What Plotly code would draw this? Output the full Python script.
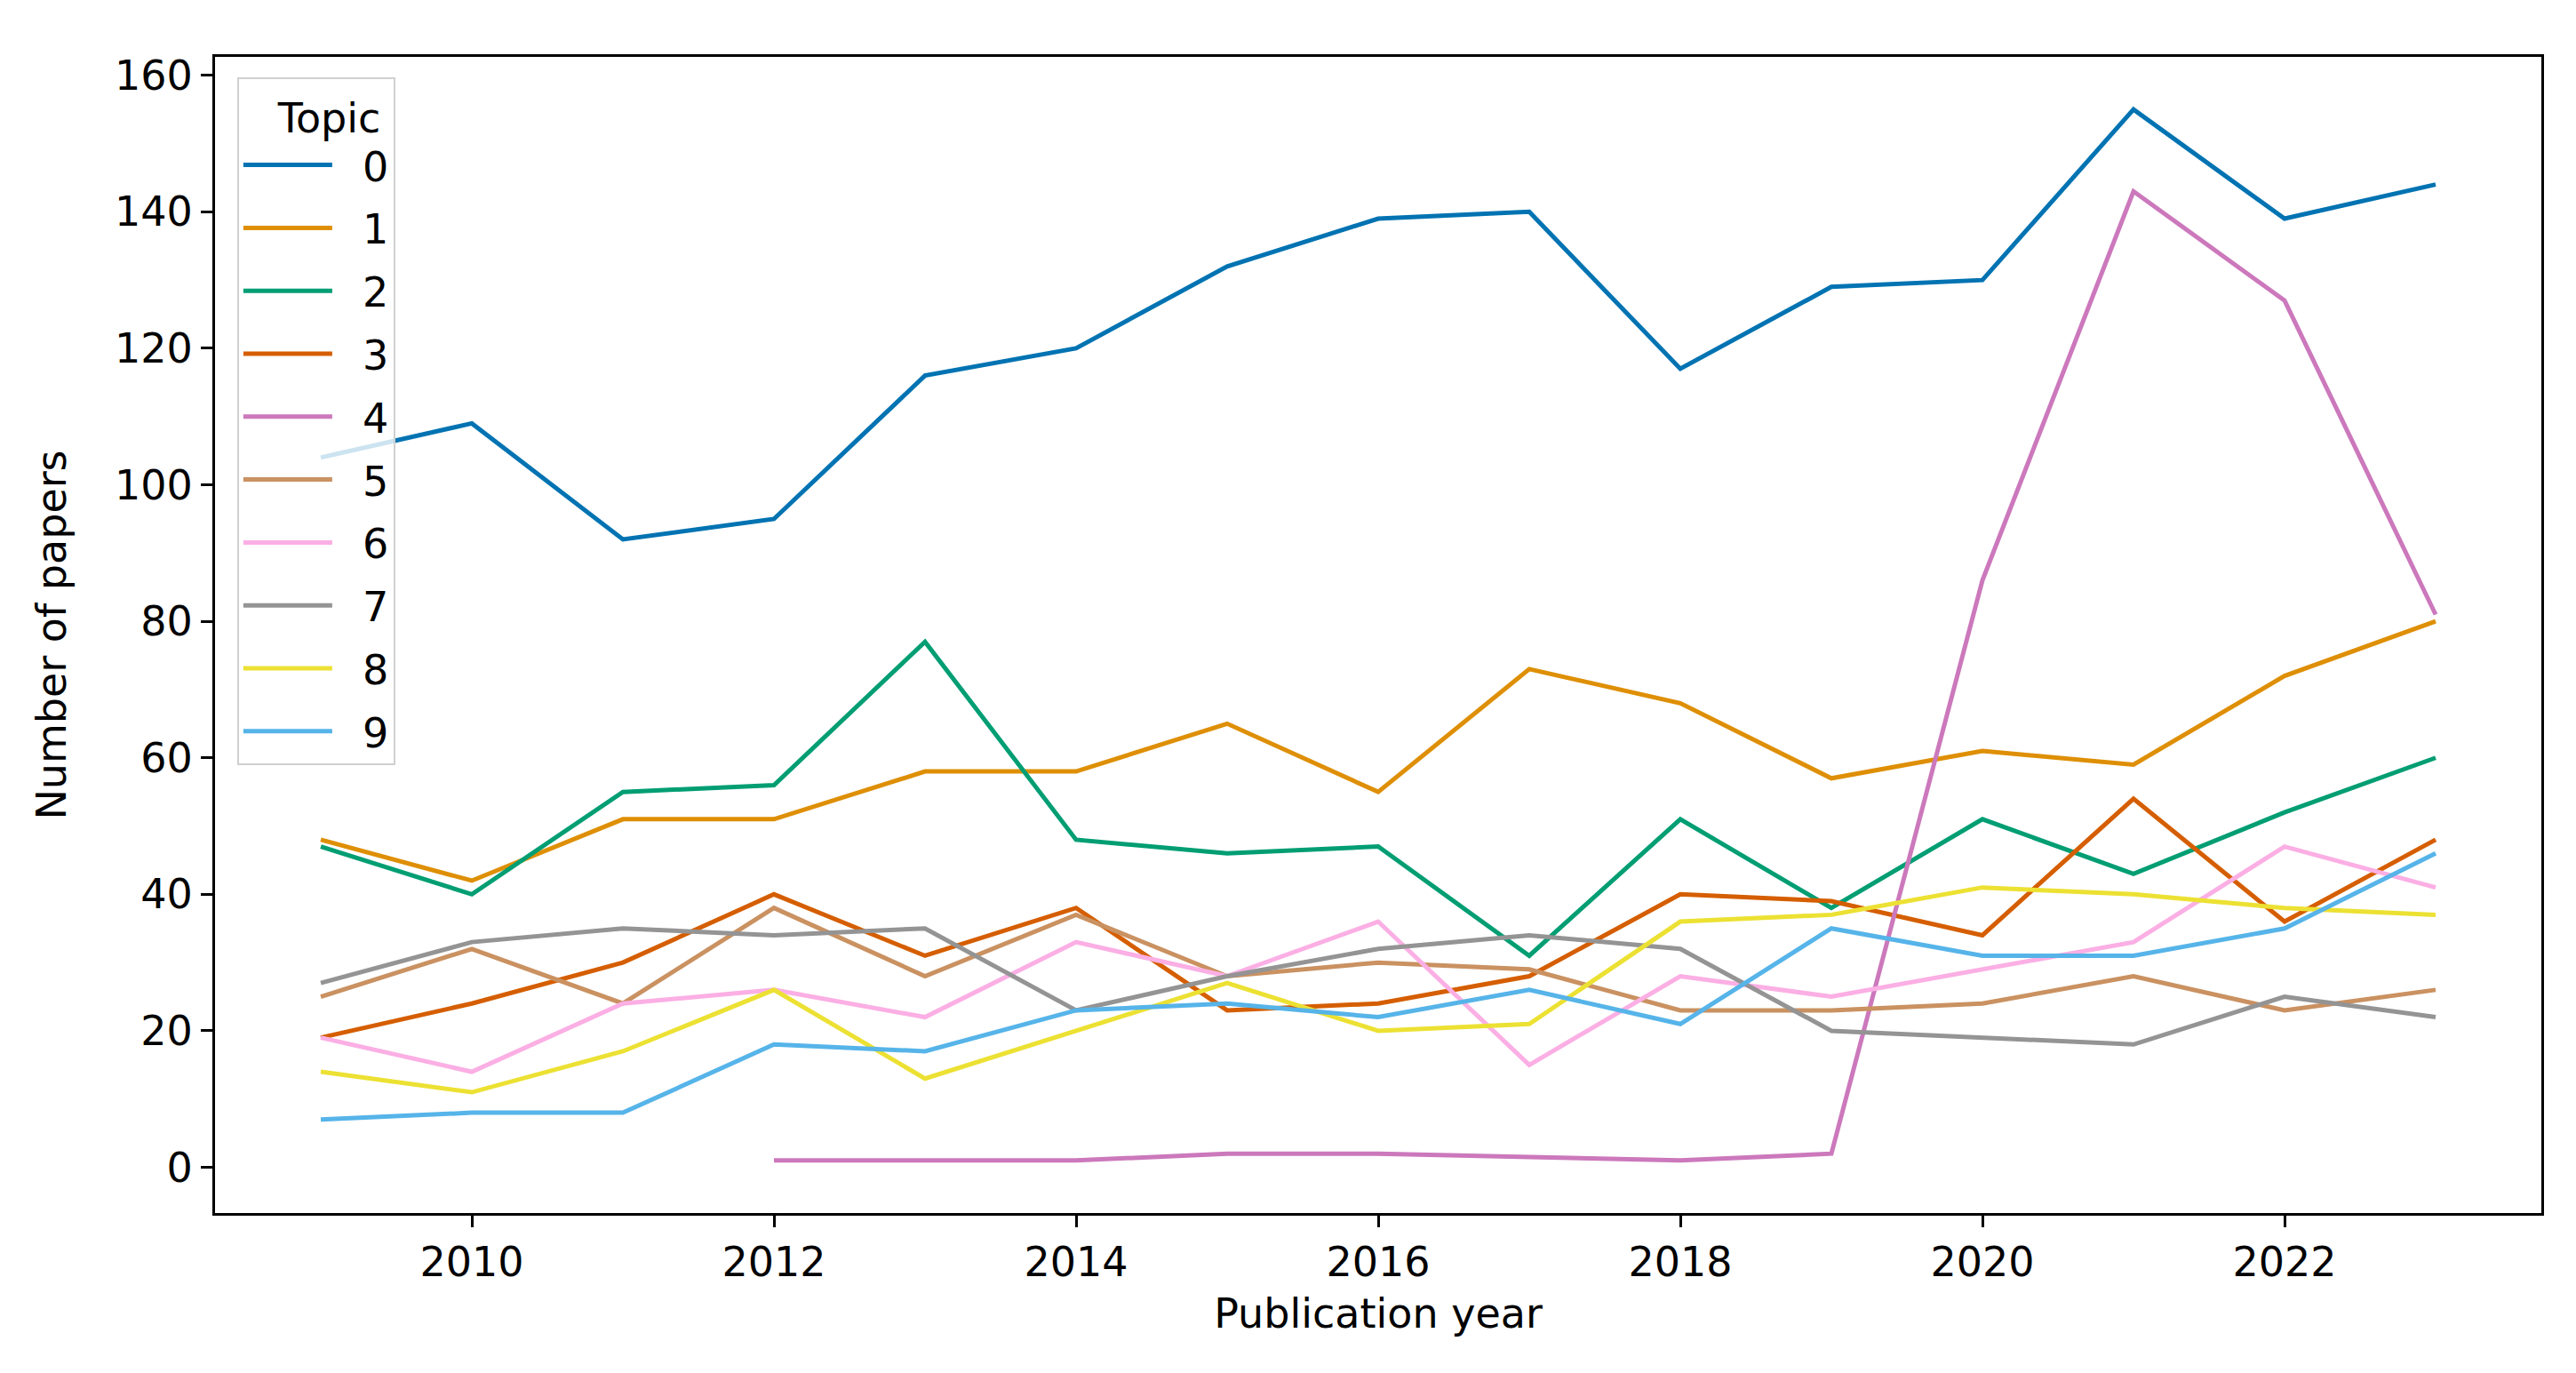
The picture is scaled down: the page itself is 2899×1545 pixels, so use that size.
import plotly.graph_objects as go

years = list(range(2009, 2024))

topic_0 = [104, 109, 92, 95, 116, 120, 132, 139, 140, 117, 129, 130, 155, 139, 144]
topic_1 = [48, 42, 51, 51, 58, 58, 65, 55, 73, 68, 57, 61, 59, 72, 80]
topic_2 = [47, 40, 55, 56, 77, 48, 46, 47, 31, 51, 38, 51, 43, 52, 60]
topic_3 = [19, 24, 30, 40, 31, 38, 23, 24, 28, 40, 39, 34, 54, 36, 48]
topic_4 = [None, None, None, 1, 1, 1, 2, 2, None, 1, 2, 86, 143, 127, 81]
topic_5 = [25, 32, 24, 38, 28, 37, 28, 30, 29, 23, 23, 24, 28, 23, 26]
topic_6 = [19, 14, 24, 26, 22, 33, 28, 36, 15, 28, 25, 29, 33, 47, 41]
topic_7 = [27, 33, 35, 34, 35, 23, 28, 32, 34, 32, 20, 19, 18, 25, 22]
topic_8 = [14, 11, 17, 26, 13, 20, 27, 20, 21, 36, 37, 41, 40, 38, 37]
topic_9 = [7, 8, 8, 18, 17, 23, 24, 22, 26, 21, 35, 31, 31, 35, 46]

topics = [topic_0, topic_1, topic_2, topic_3, topic_4,
          topic_5, topic_6, topic_7, topic_8, topic_9]
topic_names = [str(i) for i in range(10)]

# seaborn "colorblind" palette
colors = ["#0173b2", "#de8f05", "#029e73", "#d55e00", "#cc78bc",
          "#ca9161", "#fbafe4", "#949494", "#ece133", "#56b4e9"]

FONT = "DejaVu Sans"
FS = 46

fig = go.Figure()
for name, vals, col in zip(topic_names, topics, colors):
    fig.add_trace(go.Scatter(x=years, y=vals, mode="lines",
                             name="\u00a0\u00a0" + name,
                             legendgroup=name, connectgaps=True,
                             line=dict(color=col, width=5)))

fig.update_layout(
    width=2899, height=1545,
    margin=dict(l=234, r=47, t=56, b=188),
    paper_bgcolor="white", plot_bgcolor="white",
    font=dict(family=FONT, size=FS, color="black"),
    showlegend=True,
    legend=dict(
        title=dict(text="  Topic", side="top center", font=dict(size=FS)),
        x=0.0095, y=0.982, xanchor="left", yanchor="top",
        bgcolor="rgba(255,255,255,0.8)", bordercolor="#d0d0d0", borderwidth=2,
        tracegroupgap=8, itemwidth=100, font=dict(size=FS),
    ),
)

fig.update_xaxes(
    range=[2008.3, 2023.7], tickmode="linear", tick0=2010, dtick=2,
    showgrid=False, zeroline=False, showline=True, mirror=True,
    linecolor="black", linewidth=3, ticks="outside", ticklen=13, tickwidth=3,
    tickcolor="black", tickfont=dict(size=FS),
    title=dict(text="Publication year", font=dict(size=FS), standoff=16),
)
fig.update_yaxes(
    range=[-6.7, 162.7], tickmode="linear", tick0=0, dtick=20,
    showgrid=False, zeroline=False, showline=True, mirror=True,
    linecolor="black", linewidth=3, ticks="outside", ticklen=13, tickwidth=3,
    tickcolor="black", tickfont=dict(size=FS),
    title=dict(text="Number of papers", font=dict(size=FS), standoff=40),
)

fig.write_html("out.html")
